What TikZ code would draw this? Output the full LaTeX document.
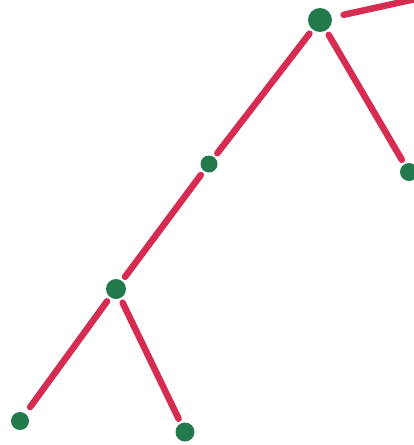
\documentclass[tikz,border=0pt]{standalone}
\definecolor{edgered}{RGB}{214,44,82}
\definecolor{nodegreen}{RGB}{34,122,76}
\begin{document}
\begin{tikzpicture}[x=1pt,y=-1pt,
  vert/.style={circle,fill=nodegreen,inner sep=0pt,minimum size=#1},
  vert/.default=16pt,
  branch/.style={draw=edgered,line width=6.5pt,line cap=round,shorten >=5pt,shorten <=5pt}]
\useasboundingbox (0,0) rectangle (414,445);
\node[vert=24pt] (top) at (320,20) {};
\node[vert=17pt] (mid) at (209,164) {};
\node[vert=20pt] (low) at (116,289) {};
\node[vert=18pt] (ll) at (20,421) {};
\node[vert=19pt] (lr) at (185,432) {};
\node[vert=18pt] (rl) at (409,172) {};
\coordinate (out) at (420,-2);
\draw[branch,shorten >=0pt,shorten <=12pt] (top) -- (out);
\draw[branch] (top) -- (mid);
\draw[branch] (top) -- (rl);
\draw[branch] (mid) -- (low);
\draw[branch,shorten >=8pt] (low) -- (ll);
\draw[branch] (low) -- (lr);
\end{tikzpicture}
\end{document}
